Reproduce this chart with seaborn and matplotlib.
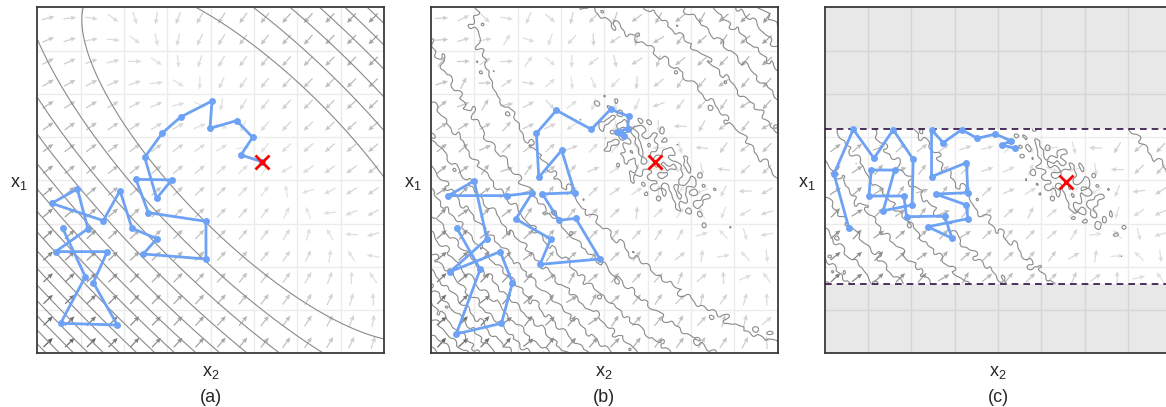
import numpy as np
import matplotlib
matplotlib.use('Agg')
import matplotlib.pyplot as plt
import seaborn as sns
from matplotlib.colors import LinearSegmentedColormap, Normalize

sns.set_theme(style='whitegrid')
plt.rcParams['font.family'] = ['Liberation Sans', 'DejaVu Sans']
plt.rcParams['mathtext.fontset'] = 'custom'
plt.rcParams['mathtext.rm'] = 'Liberation Sans'
plt.rcParams['mathtext.it'] = 'Liberation Sans:italic'

# sampler paths, grid units 0..8 (x2 across, x1 up)
path_a_x2 = [0.585, 1.108, 0.538, 1.846, 1.292, 1.615, 0.423, 1.169, 0.923, 0.331,
             1.523, 1.908, 2.185, 2.762, 2.446, 3.892, 3.892, 2.562, 2.277, 3.100,
             2.754, 2.477, 2.885, 3.308, 4.031, 3.985, 4.600, 4.969, 4.700, 5.177]
path_a_x1 = [2.890, 1.773, 0.694, 0.655, 1.634, 2.351, 2.351, 2.882, 3.800, 3.468,
             3.067, 3.761, 2.890, 2.651, 2.297, 2.181, 3.052, 3.252, 4.023, 4.008,
             3.584, 4.532, 5.094, 5.464, 5.834, 5.202, 5.380, 4.994, 4.586, 4.432]

path_b_x2 = [0.599, 1.136, 0.584, 1.628, 1.881, 1.597, 0.445, 1.290, 0.998, 0.399,
             1.766, 2.341, 1.958, 2.764, 2.518, 3.900, 3.340, 2.956, 2.572, 3.317,
             3.017, 2.488, 2.434, 2.894, 3.701, 4.146, 4.568, 4.537, 4.300, 4.446, 4.376]
path_b_x1 = [2.890, 1.942, 0.447, 0.694, 1.634, 2.351, 1.889, 2.643, 3.985, 3.646,
             3.646, 3.715, 3.106, 2.643, 2.057, 2.181, 3.121, 3.075, 3.684, 3.715,
             4.694, 4.069, 5.087, 5.619, 5.179, 5.642, 5.480, 5.195, 5.125, 5.033, 5.095]

path_c_x2 = [0.560, 0.214, 0.659, 1.136, 1.581, 2.041, 2.018, 1.350, 1.613, 1.074,
             1.021, 1.827, 1.889, 2.765, 2.940, 2.380, 3.302, 3.272, 2.558, 3.302,
             3.272, 2.465, 2.465, 2.733, 3.157, 3.525, 3.940, 4.293, 4.092, 4.385]
path_c_x1 = [2.890, 4.146, 5.180, 4.509, 5.170, 4.486, 3.429, 3.297, 4.238, 4.238,
             3.637, 3.637, 3.158, 3.175, 2.659, 2.927, 3.112, 3.429, 3.683, 3.713,
             4.407, 4.083, 5.170, 4.869, 5.170, 4.971, 5.070, 4.916, 4.816, 4.740]

targets = [(5.18, 4.43), (5.16, 4.42), (5.57, 3.95)]
band_c = (1.61, 5.19)
panel_labels = ['(a)', '(b)', '(c)']

lam1, lam2 = 0.69, 0.081
r2 = np.sqrt(2)
arrow_cmap = LinearSegmentedColormap.from_list('arrows', ['#e6e6e6', '#b0b0b0', '#5c5c5c'])


def potential(X, Y, cx, cy):
    u = ((X - cx) + (Y - cy)) / r2
    v = ((X - cx) - (Y - cy)) / r2
    return 0.5 * (lam1 * u ** 2 + lam2 * v ** 2)


def pull(X, Y, cx, cy):
    u = ((X - cx) + (Y - cy)) / r2
    v = ((X - cx) - (Y - cy)) / r2
    gu, gv = lam1 * u, lam2 * v
    return -(gu + gv) / r2, -(gu - gv) / r2


def ripple(X, Y):
    waves = [(23.1, 7.3, 0.3), (-11.7, 19.9, 1.7), (17.3, -21.1, 2.9), (5.1, 29.3, 4.1),
             (-27.7, -6.1, 0.9), (31.3, 13.7, 5.3), (-9.1, -25.3, 3.3), (13.9, 3.1, 2.2),
             (7.9, -11.3, 1.1), (-12.7, 8.3, 4.7)]
    return sum(np.sin(fx * X + fy * Y + ph) for fx, fy, ph in waves) / np.sqrt(len(waves) / 2)


def draw_field(ax, cx, cy, rough, y_lo=0.0, y_hi=8.0, bend=1.0):
    gx = np.linspace(0, 8, 321)
    gy = np.linspace(y_lo, y_hi, int(round((y_hi - y_lo) * 40)) + 1)
    X, Y = np.meshgrid(gx, gy)
    U = potential(X, Y, cx, cy)
    U = 1.25 * (U / 1.25) ** bend
    levels = list(1.25 + np.arange(22))
    if rough:
        U = U + (0.06 + 0.007 * U) * ripple(X, Y)
        levels = [0.05] + levels
    ax.contour(X, Y, U, levels=levels, colors='#8a8a8a', linewidths=0.8, zorder=2)

    q = np.arange(0.25, 8, 0.5)
    qy = q[(q > y_lo) & (q < y_hi)]
    QX, QY = np.meshgrid(q, qy)
    dx, dy = pull(QX, QY, cx, cy)
    mag = np.hypot(dx, dy)
    if rough:
        dx = dx + 0.35 * np.sin(5.3 * QX + 7.1 * QY + 0.4) + 0.2 * np.sin(-8.3 * QX + 3.7 * QY)
        dy = dy + 0.35 * np.sin(-6.7 * QX + 4.9 * QY + 1.3) + 0.2 * np.sin(3.1 * QX - 9.1 * QY)
    n = np.hypot(dx, dy)
    ax.quiver(QX, QY, dx / n * 0.3, dy / n * 0.3, mag, cmap=arrow_cmap,
              norm=Normalize(0, 4.5), angles='xy', scale_units='xy', scale=1,
              pivot='mid', width=0.0035, headwidth=4, headlength=4.5,
              headaxislength=4, zorder=1.5)


fig = plt.figure(figsize=(11.66, 4.07), dpi=100)
lefts = [0.0320, 0.3696, 0.7073]
paths = [(path_a_x2, path_a_x1), (path_b_x2, path_b_x1), (path_c_x2, path_c_x1)]

for i in range(3):
    ax = fig.add_axes([lefts[i], 0.1319, 0.2973, 0.8501])
    ax.set_xlim(0, 8)
    ax.set_ylim(0, 8)
    ax.set_xticks(range(1, 8))
    ax.set_yticks(range(1, 8))
    ax.set_xticklabels([])
    ax.set_yticklabels([])
    ax.tick_params(length=0)
    ax.grid(True, color='#ebebeb', lw=1.0)
    ax.set_facecolor('white')
    for s in ax.spines.values():
        s.set_color('#3a3a3a')
        s.set_linewidth(1.3)
    ax.set_axisbelow(True)

    cx, cy = targets[i]
    if i == 2:
        lo, hi = band_c
        draw_field(ax, cx, cy, True, lo, hi, bend=0.87)
        ax.axhspan(hi, 8, color='black', alpha=0.09, lw=0, zorder=0.8)
        ax.axhspan(0, lo, color='black', alpha=0.09, lw=0, zorder=0.8)
        for yb in band_c:
            ax.axhline(yb, color='#2e0f45', lw=1.2, dashes=(4, 3), zorder=3)
    else:
        draw_field(ax, cx, cy, i == 1)

    px, py = paths[i]
    sns.lineplot(x=px, y=py, sort=False, estimator=None, ax=ax, color='#6ea2f5',
                 lw=2.0, marker='o', markersize=5, markeredgewidth=0, zorder=4)
    ax.plot([cx], [cy], marker='x', color='red', ms=10, mew=2, zorder=5)

    ax.set_xlabel('')
    ax.set_ylabel('')
    ax.text(0.5, -0.066, 'x$_2$', transform=ax.transAxes, ha='center', va='baseline', fontsize=13)
    ax.text(0.5, -0.141, panel_labels[i], transform=ax.transAxes, ha='center', va='baseline', fontsize=13)
    ax.text(-0.053, 0.49, 'x$_1$', transform=ax.transAxes, ha='center', va='center', fontsize=13)

fig.savefig('out.png', dpi=100)
